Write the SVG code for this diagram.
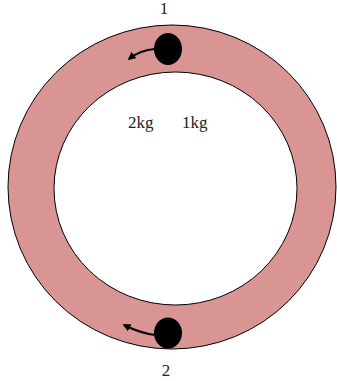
<svg xmlns="http://www.w3.org/2000/svg" width="337" height="381" viewBox="0 0 337 381">
<style>
.lbl{font-family:"Liberation Serif","DejaVu Serif",serif;font-size:17px;fill:#222}
.ball{fill:#000}
.arr{fill:none;stroke:#000;stroke-width:2}
</style>
<defs>
<marker id="ah" viewBox="0 0 10 10" refX="8" refY="5" markerWidth="4" markerHeight="4" orient="auto">
<path d="M0,0 L10,5 L0,10 z" fill="#000"/>
</marker>
</defs>
<rect width="337" height="381" fill="#fff"/>
<g id="ring">
<path d="M8,187 A164,162 0 1,0 336,187 A164,162 0 1,0 8,187 Z M54,188.5 A121.5,116.5 0 1,1 297,188.5 A121.5,116.5 0 1,1 54,188.5 Z" fill="#d99594" fill-rule="evenodd" stroke="#000" stroke-width="1"/>
</g>
<g id="ball1"><ellipse class="ball" cx="168" cy="49" rx="14" ry="16"/></g>
<g id="ball2"><ellipse class="ball" cx="168" cy="333" rx="14" ry="15.5"/></g>
<g id="connectors">
<path class="arr" d="M155,49 Q140,50 129,59" marker-end="url(#ah)"/>
<path class="arr" d="M155,335 Q140,333 124,325" marker-end="url(#ah)"/>
</g>
<g id="labels">
<text class="lbl" x="164" y="14" text-anchor="middle">1</text>
<text class="lbl" x="166" y="376" text-anchor="middle">2</text>
<text class="lbl" x="128" y="128">2kg</text>
<text class="lbl" x="182" y="128">1kg</text>
</g>
</svg>
